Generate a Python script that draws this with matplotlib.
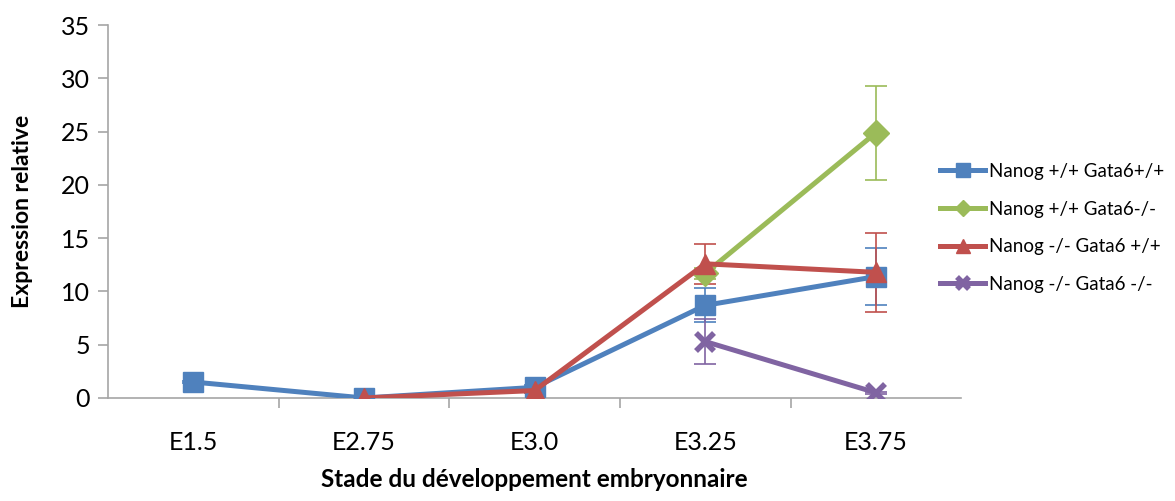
import numpy as np
import matplotlib
matplotlib.use("Agg")
import matplotlib.pyplot as plt

plt.rcParams['font.family'] = ['Lato', 'DejaVu Sans']

stages = ["E1.5", "E2.75", "E3.0", "E3.25", "E3.75"]

wt_wt = [1.5, 0.0, 1.0, 8.7, 11.4]
wt_wt_err = [0.1, 0.1, 0.2, 1.6, 2.7]
wt_ko = [np.nan, np.nan, np.nan, 11.7, 24.9]
wt_ko_err = [0, 0, 0, 0.5, 4.4]
ko_wt = [np.nan, 0.0, 0.7, 12.6, 11.8]
ko_wt_err = [0, 0.1, 0.2, 1.9, 3.7]
ko_ko = [np.nan, np.nan, np.nan, 5.3, 0.5]
ko_ko_err = [0, 0, 0, 2.1, 0.1]

labels = ["Nanog +/+ Gata6+/+", "Nanog +/+ Gata6-/-",
          "Nanog -/- Gata6 +/+", "Nanog -/- Gata6 -/-"]
colors = ["#4f81bd", "#9bbb59", "#c0504d", "#8064a2"]
markers = ["s", "D", "^", "x"]
msizes = [15, 13, 15, 13]

fig = plt.figure(figsize=(11.75, 5.01), dpi=100)
ax = fig.add_axes([0.092, 0.2056, 0.726, 0.744])

x = np.arange(len(stages))
series = [(wt_wt, wt_wt_err), (wt_ko, wt_ko_err), (ko_wt, ko_wt_err), (ko_ko, ko_ko_err)]
for (vals, errs), lab, c, m, ms in zip(series, labels, colors, markers, msizes):
    ax.errorbar(x, vals, yerr=errs, fmt='none', ecolor=c, elinewidth=1.2,
                capsize=8, capthick=1.2, zorder=2)
    mew = 4 if m == "x" else 1
    ax.plot(x, vals, color=c, lw=3.6, marker=m, ms=ms, mec=c, mew=mew, label=lab, zorder=3)

ax.set_xlim(-0.5, len(stages) - 0.5)
ax.set_ylim(0, 35)
ax.set_yticks(range(0, 36, 5))
ax.set_xticks(x)
ax.set_xticklabels(stages)
ax.set_xticks(np.arange(0.5, len(stages) - 1, 1), minor=True)
ax.tick_params(axis='x', which='major', length=0, labelsize=18, pad=24)
ax.tick_params(axis='x', which='minor', length=7, color='#a6a6a6', width=1.2)
ax.tick_params(axis='y', length=7, color='#a6a6a6', width=1.2, labelsize=18, pad=6)

for s in ['top', 'right']:
    ax.spines[s].set_visible(False)
ax.spines['left'].set_color('#a6a6a6')
ax.spines['bottom'].set_color('#a6a6a6')
ax.spines['left'].set_linewidth(1.2)
ax.spines['bottom'].set_linewidth(1.2)

ax.set_xlabel("Stade du développement embryonnaire", fontsize=17.5, fontweight='bold', labelpad=10)
ax.set_ylabel("Expression relative", fontsize=16.5, fontweight='bold', labelpad=20)

ax.legend(loc='center left', bbox_to_anchor=(0.8, 0.545), bbox_transform=fig.transFigure,
          frameon=False, fontsize=13.5, borderaxespad=0, borderpad=0,
          handlelength=2.4, labelspacing=1.1, markerscale=0.65, handletextpad=0.2)

fig.savefig("out.png", dpi=100)
